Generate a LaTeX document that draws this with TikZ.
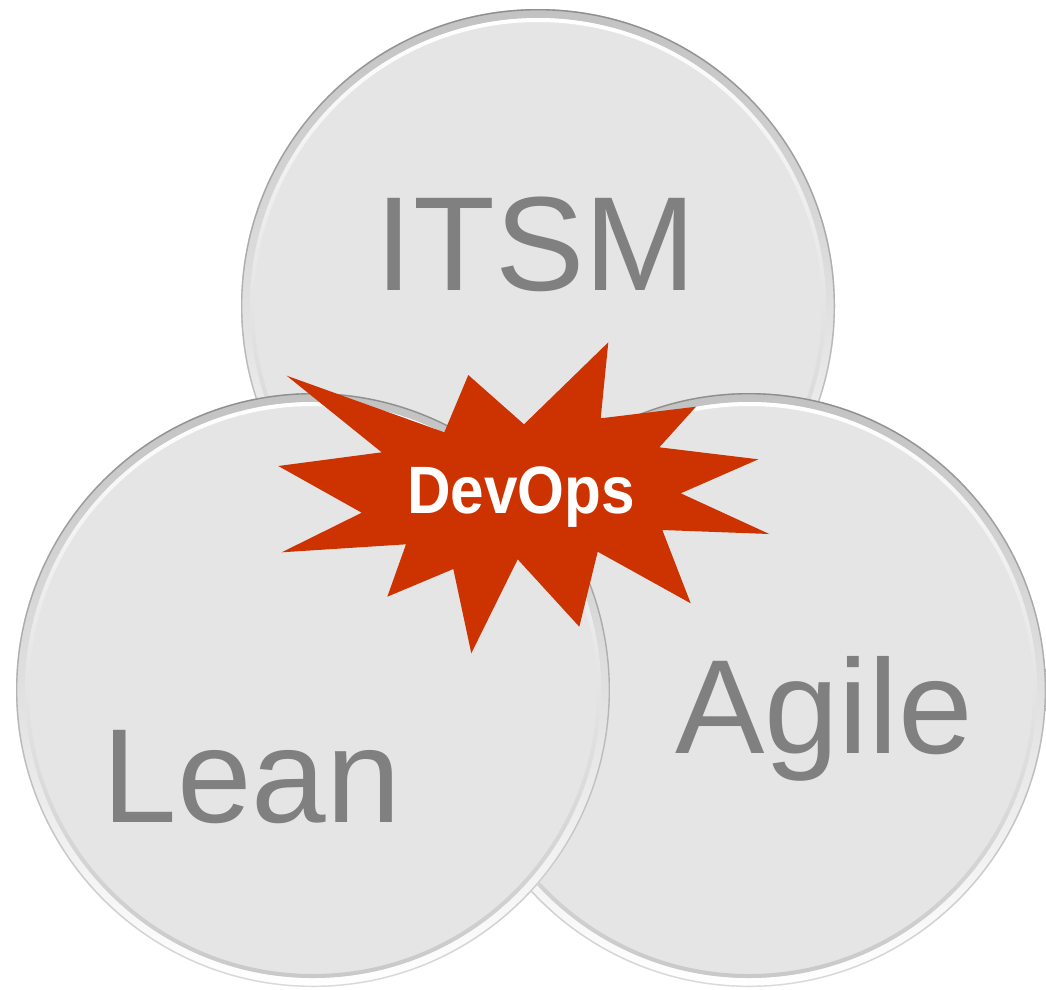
\documentclass[tikz,border=0pt]{standalone}
\usepackage{fontspec}
\setmainfont{Liberation Sans}
\usetikzlibrary{calc}
\definecolor{discfill}{HTML}{E5E5E5}
\definecolor{edgedark}{HTML}{8E8E8E}
\definecolor{edgelight}{HTML}{DADADA}
\definecolor{banddark}{HTML}{C2C2C2}
\definecolor{innershade}{HTML}{C9C9C9}
\definecolor{labelgray}{HTML}{808080}
\definecolor{burst}{HTML}{CC3300}
\tikzset{
  x=1pt, y=-1pt,
  disc/.style={circle, minimum size=594pt, inner sep=0pt, fill=discfill},
  bigword/.style={anchor=base, text=labelgray, font=\fontsize{134}{140}\selectfont},
  burstword/.style={anchor=base, text=white, font=\bfseries\fontsize{67}{70}\selectfont, xscale=0.9},
  ring/.style={even odd rule, shading=axis, shading angle=45},
}
% a disc with a bevelled rim
\newcommand{\bevdisc}[2]{%
  \node[disc] (#1) at (#2) {};
  \shade[ring, top color=banddark, bottom color=white]
    (#1.center) circle[radius=297pt] (#1.center) circle[radius=288pt];
  \shade[ring, top color=edgedark, bottom color=edgelight]
    (#1.center) circle[radius=297pt] (#1.center) circle[radius=295.6pt];
  \shade[ring, top color=white, bottom color=innershade]
    (#1.center) circle[radius=288pt] (#1.center) circle[radius=284pt];
}
\begin{document}
\begin{tikzpicture}
\useasboundingbox (0,0) rectangle (1046,989);
\fill[white] (0,0) rectangle (1046,989);

% three overlapping discs
\bevdisc{itsm}{538,306}
\bevdisc{agile}{749,690}
\bevdisc{lean}{313,690}

% labels
\node[bigword] (titsm) at (536,290) {ITSM};
\node[bigword] (tagile) at (824,753) {Agile};
\node[bigword] (tlean) at (252,822) {Lean};

% starburst in the middle
\fill[burst] (608.3,342.3) -- (600.7,418.3) -- (696,406.7) -- (659.3,447.3)
  -- (758.3,459.3) -- (680.7,493.3) -- (769.3,534) -- (662.3,530)
  -- (690.7,603.3) -- (597.7,551.7) -- (579.3,626.7) -- (517.7,559.3)
  -- (471.3,653.3) -- (453.3,569) -- (387.3,596.7) -- (406,544.3)
  -- (281.7,552.3) -- (361.7,512.7) -- (278.3,466) -- (381.7,452.3)
  -- (286.7,375.7) -- (444.3,432.3) -- (468.3,375) -- (524,424.3) -- cycle;
\node[burstword] (devops) at (521,513) {DevOps};
\end{tikzpicture}
\end{document}
